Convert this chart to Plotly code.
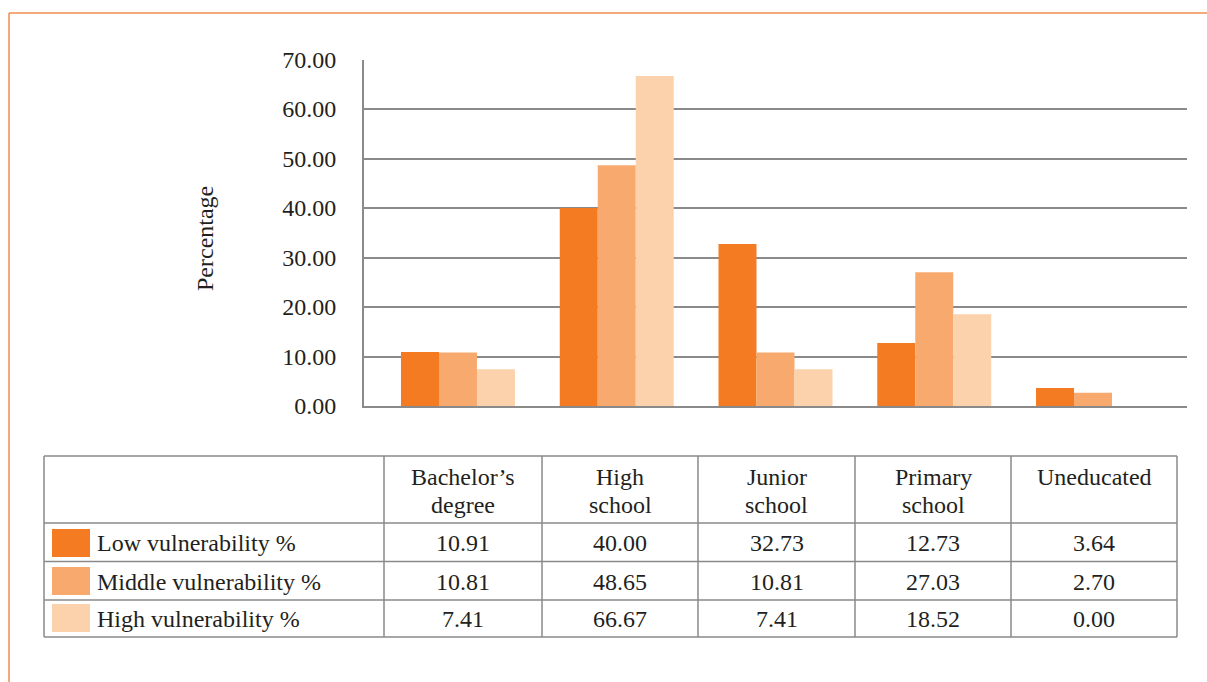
import plotly.graph_objects as go

categories = ["Bachelor’s degree", "High school", "Junior school", "Primary school", "Uneducated"]
header_lines = [["Bachelor’s", "degree"], ["High", "school"], ["Junior", "school"], ["Primary", "school"], ["Uneducated"]]
series_names = ["Low vulnerability %", "Middle vulnerability %", "High vulnerability %"]
low_vals = [10.91, 40.00, 32.73, 12.73, 3.64]
mid_vals = [10.81, 48.65, 10.81, 27.03, 2.70]
high_vals = [7.41, 66.67, 7.41, 18.52, 0.00]
y_ticks = [0, 10, 20, 30, 40, 50, 60, 70]

colors = ["#F47B22", "#F8AA6E", "#FCD2AC"]
W, H = 1207, 682
FONT = "Liberation Serif, Times New Roman, serif"
FS = 24
TXT = "#231F20"
GRID = "#8A8A8A"


def px(x):
    return x / W


def py(y):
    return 1 - y / H


fig = go.Figure()
for name, vals, c in zip(series_names, [low_vals, mid_vals, high_vals], colors):
    fig.add_trace(go.Bar(x=categories, y=vals, name=name, marker=dict(color=c, line=dict(width=0))))

shapes = []
annotations = []

# orange frame
shapes.append(dict(type="line", xref="paper", yref="paper", x0=px(9), x1=px(1207), y0=py(13), y1=py(13),
                   line=dict(color="#F08C4C", width=1.5)))
shapes.append(dict(type="line", xref="paper", yref="paper", x0=px(9), x1=px(9), y0=py(13), y1=py(682),
                   line=dict(color="#F08C4C", width=1.5)))

# table grid
col_x = [44, 384, 542, 698, 855, 1011, 1177]
row_y = [456, 523, 561.5, 600, 637]
for x in col_x:
    shapes.append(dict(type="line", xref="paper", yref="paper", x0=px(x), x1=px(x), y0=py(row_y[0]), y1=py(row_y[-1]),
                       line=dict(color=GRID, width=1.5)))
for y in row_y:
    shapes.append(dict(type="line", xref="paper", yref="paper", x0=px(col_x[0]), x1=px(col_x[-1]), y0=py(y), y1=py(y),
                       line=dict(color=GRID, width=1.5)))

# header text
header_y = [477, 505]
for i, lines in enumerate(header_lines):
    cx = (col_x[i + 1] + col_x[i + 2]) / 2
    for j, line in enumerate(lines):
        annotations.append(dict(xref="paper", yref="paper", x=px(cx), y=py(header_y[j]), text=line, showarrow=False,
                                xanchor="center", yanchor="middle", font=dict(family=FONT, size=FS, color=TXT)))

# rows
row_cy = [543, 581.5, 619]
sw_y = [(529, 557), (567, 595), (604, 632)]
for r, (name, vals, c) in enumerate(zip(series_names, [low_vals, mid_vals, high_vals], colors)):
    shapes.append(dict(type="rect", xref="paper", yref="paper", x0=px(52), x1=px(90), y0=py(sw_y[r][0]), y1=py(sw_y[r][1]),
                       fillcolor=c, line=dict(width=0)))
    annotations.append(dict(xref="paper", yref="paper", x=px(95), y=py(row_cy[r]), text=name, showarrow=False,
                            xanchor="left", yanchor="middle", font=dict(family=FONT, size=FS, color=TXT)))
    for i, v in enumerate(vals):
        cx = (col_x[i + 1] + col_x[i + 2]) / 2
        annotations.append(dict(xref="paper", yref="paper", x=px(cx), y=py(row_cy[r]), text=f"{v:.2f}", showarrow=False,
                                xanchor="center", yanchor="middle", font=dict(family=FONT, size=FS, color=TXT)))

# y title
annotations.append(dict(xref="paper", yref="paper", x=px(205), y=py(239), text="Percentage", showarrow=False,
                        textangle=-90, xanchor="center", yanchor="middle", font=dict(family=FONT, size=FS, color=TXT)))

fig.update_layout(
    width=W, height=H,
    margin=dict(l=0, r=0, t=0, b=0, pad=0),
    paper_bgcolor="white", plot_bgcolor="white",
    barmode="group", bargap=0.282, bargroupgap=0,
    showlegend=False,
    shapes=shapes, annotations=annotations,
    font=dict(family=FONT, size=FS, color=TXT),
    xaxis=dict(domain=[px(364), px(1187)], range=[-0.592, 4.592], showticklabels=False, showgrid=False,
               showline=True, linecolor=GRID, linewidth=2, ticks="", zeroline=False, fixedrange=True,
               automargin=False),
    yaxis=dict(domain=[py(406), py(59.5)], range=[0, 70], tickvals=y_ticks, tickformat=".2f",
               showgrid=True, gridcolor=GRID, gridwidth=1.5, showline=True, linecolor=GRID, linewidth=2,
               zeroline=False, ticks="", ticklabelstandoff=21, automargin=False,
               tickfont=dict(family=FONT, size=FS, color=TXT), fixedrange=True),
)

fig.write_html("out.html")
